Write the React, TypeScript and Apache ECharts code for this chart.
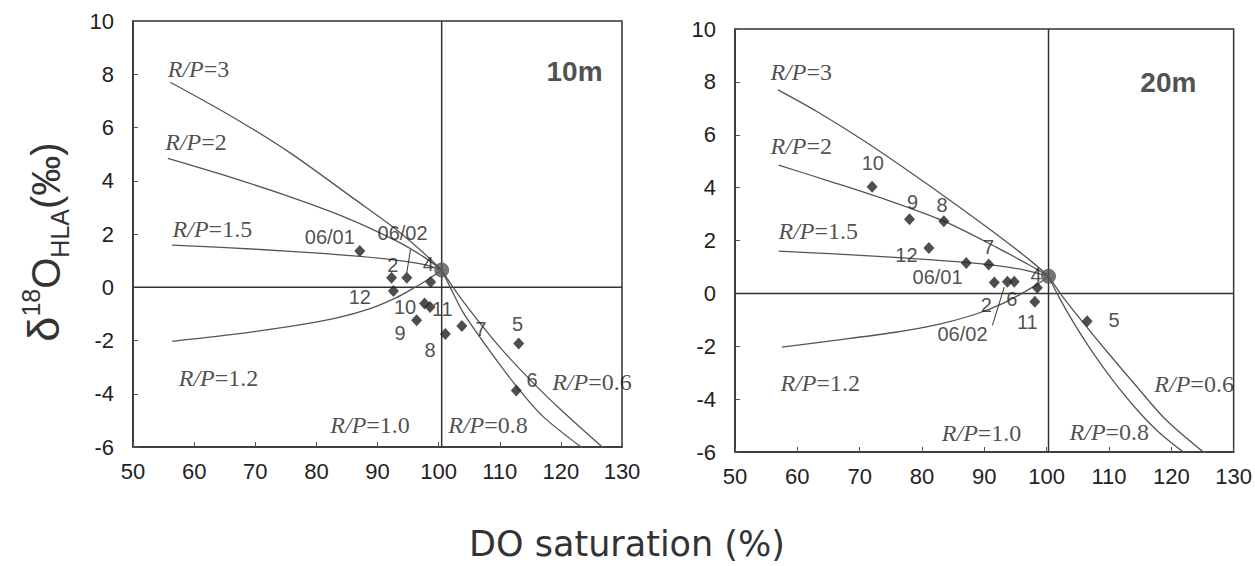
import React, { useEffect, useRef } from "react";
import * as echarts from "echarts";

// ---------- data ----------
const X_MIN = 50, X_MAX = 130, X_STEP = 10;
const Y_MIN = -6, Y_MAX = 10, Y_STEP = 2;

// equilibrium point & reference lines
const leftEq = [100.5, 0.65];
const rightEq = [100.3, 0.65];

// 10 m samples
const leftMonths = ["06/01", "2", "06/02", "4", "12", "10", "11", "9", "8", "7", "5", "6"];
const leftDO = [87.1, 92.3, 94.8, 98.7, 92.6, 97.7, 98.6, 96.4, 101.1, 103.8, 113.1, 112.7];
const leftD18O = [1.36, 0.36, 0.36, 0.2, -0.14, -0.61, -0.74, -1.24, -1.76, -1.46, -2.11, -3.88];
const leftLabelDO = [82.2, 92.5, 94.1, 98.3, 87.1, 94.5, 100.6, 93.7, 98.6, 106.9, 112.9, 115.3];
const leftLabelD18O = [1.88, 0.83, 2.02, 0.89, -0.36, -0.76, -0.8, -1.7, -2.36, -1.55, -1.39, -3.49];
const leftLeader = [[95.4, 1.42], [94.8, 0.55]];

// 20 m samples
const rightMonths = ["10", "9", "8", "12", "06/01", "7", "2", "06/02", "6", "4", "11", "5"];
const rightDO = [72.0, 78.0, 83.5, 81.1, 87.1, 90.7, 91.6, 93.7, 94.8, 98.5, 98.1, 106.5];
const rightD18O = [4.03, 2.8, 2.73, 1.72, 1.15, 1.09, 0.41, 0.44, 0.44, 0.21, -0.32, -1.05];
const rightLabelDO = [72.1, 78.5, 83.2, 77.5, 82.5, 90.7, 90.3, 86.5, 94.4, 98.3, 96.9, 110.8];
const rightLabelD18O = [4.92, 3.46, 3.34, 1.45, 0.62, 1.74, -0.45, -1.52, -0.23, 0.69, -1.08, -1.01];
const rightLeader = [[91.3, -1.21], [93.2, 0.24]];

// model curves (R/P ratios)
const rpNames = ["3", "2", "1.5", "1.2", "0.8", "0.6"];
const leftCurves = [
  [[56.1, 7.7], [66.7, 6.34], [76, 5.0], [86.3, 3.3], [93, 2.18], [97, 1.4], [100.5, 0.65]],
  [[55.7, 4.84], [65, 4.2], [75, 3.45], [85, 2.6], [93, 1.75], [97.5, 1.15], [100.5, 0.65]],
  [[56.4, 1.58], [66, 1.48], [75.7, 1.35], [85, 1.2], [92, 1.05], [97.5, 0.86], [100.5, 0.65]],
  [[56.4, -2.03], [66, -1.78], [75.7, -1.47], [83, -1.17], [88.8, -0.8], [93, -0.4], [96, -0.02], [98.5, 0.33], [100.5, 0.65]],
  [[100.5, 0.65], [102, -0.05], [104.1, -0.98], [108.4, -2.4], [112.8, -3.74], [117.1, -4.86], [123.6, -6.05]],
  [[100.5, 0.65], [102.5, -0.05], [105.1, -0.86], [110, -2.25], [115.5, -3.6], [120, -4.6], [127, -6.05]],
];
const rightCurves = [
  [[56.9, 7.7], [63, 6.9], [70.5, 5.8], [78, 4.6], [85.2, 3.4], [93, 2.05], [97.5, 1.22], [100.3, 0.65]],
  [[57, 4.85], [65.2, 4.24], [75, 3.48], [83.5, 2.73], [91.9, 1.75], [97, 1.1], [100.3, 0.65]],
  [[57, 1.6], [65.2, 1.5], [75, 1.37], [87.1, 1.17], [92, 1.05], [96.5, 0.88], [100.3, 0.65]],
  [[57.5, -2.03], [66, -1.78], [75.7, -1.47], [83, -1.15], [88.7, -0.78], [93, -0.38], [96, 0.0], [98.5, 0.34], [100.3, 0.65]],
  [[100.3, 0.65], [102, -0.15], [104.3, -1.1], [107, -2.1], [110.5, -3.25], [114.5, -4.4], [118, -5.25], [122.2, -6.05]],
  [[100.3, 0.65], [102.5, -0.1], [105.5, -1.0], [109.5, -2.15], [114, -3.4], [119, -4.75], [125.4, -6.05]],
];

// R/P label anchors (left-aligned text, data coords)
const rpLabelTexts = ["3", "2", "1.5", "1.2", "1.0", "0.8", "0.6"];
const leftRpDO = [55.6, 55.2, 56.4, 57.4, 82.2, 101.5, 118.5];
const leftRpD18O = [8.19, 5.45, 2.18, -3.41, -5.18, -5.18, -3.56];
const rightRpDO = [55.6, 55.6, 56.9, 57.2, 83.1, 103.6, 117.2];
const rightRpD18O = [8.37, 5.57, 2.35, -3.39, -5.29, -5.25, -3.43];

const panelTitles = ["10m", "20m"];
const titleDO = [126.9, 124.1];
const titleD18O = [8.1, 7.99];

// ---------- helpers ----------
const INK = "#222";
const CURVE = "#555";

function panelSeries(
  gi: number,
  eq: number[],
  months: string[],
  dox: number[],
  d18: number[],
  lx: number[],
  ly: number[],
  leader: number[][],
  curves: number[][][],
  rpx: number[],
  rpy: number[]
) {
  const ax = { xAxisIndex: gi, yAxisIndex: gi };
  const s: any[] = [];
  s.push({
    ...ax, type: "line", silent: true, symbol: "none", z: 1,
    data: [[X_MIN, 0], [X_MAX, 0]],
    lineStyle: { color: "#333", width: 1.5 },
  });
  s.push({
    ...ax, type: "line", silent: true, symbol: "none", z: 1,
    data: [[eq[0], Y_MIN], [eq[0], Y_MAX]],
    lineStyle: { color: "#333", width: 1.5 },
  });
  curves.forEach((c, i) => {
    s.push({
      ...ax, type: "line", name: "R/P=" + rpNames[i], silent: true, symbol: "none", z: 2,
      smooth: 0.3, data: c,
      lineStyle: { color: CURVE, width: 1.3 },
    });
  });
  s.push({
    ...ax, type: "line", silent: true, symbol: "none", z: 2,
    data: leader, lineStyle: { color: "#333", width: 1 },
  });
  s.push({
    ...ax, type: "scatter", silent: true, symbol: "diamond", symbolSize: [11, 12], z: 4,
    data: dox.map((x, i) => ({ name: months[i], value: [x, d18[i]] })),
    itemStyle: { color: INK },
  });
  s.push({
    ...ax, type: "scatter", silent: true, symbol: "circle", symbolSize: 15, z: 5,
    data: [eq], itemStyle: { color: "#555" },
  });
  s.push({
    ...ax, type: "scatter", silent: true, symbolSize: 1, z: 6,
    itemStyle: { color: "transparent" },
    data: lx.map((x, i) => ({ name: months[i], value: [x, ly[i]] })),
    label: {
      show: true, position: "inside", formatter: "{b}",
      fontSize: 20, color: INK, fontFamily: "Liberation Sans, Arial, sans-serif",
    },
  });
  s.push({
    ...ax, type: "scatter", silent: true, symbolSize: 1, z: 6,
    itemStyle: { color: "transparent" },
    data: rpx.map((x, i) => ({ name: rpLabelTexts[i], value: [x, rpy[i]] })),
    label: {
      show: true, position: "right", distance: 0,
      formatter: (p: any) => `{i|R/P}{n|=${p.name}}`,
      rich: {
        i: { fontSize: 24, fontStyle: "italic", fontFamily: "Liberation Serif, Times New Roman, serif", color: INK },
        n: { fontSize: 24, fontFamily: "Liberation Serif, Times New Roman, serif", color: INK },
      },
    },
  });
  s.push({
    ...ax, type: "scatter", silent: true, symbolSize: 1, z: 6,
    itemStyle: { color: "transparent" },
    data: [{ name: panelTitles[gi], value: [titleDO[gi], titleD18O[gi]] }],
    label: {
      show: true, position: "left", distance: 0, formatter: "{b}",
      fontSize: 28, fontWeight: "bold", color: INK, fontFamily: "Liberation Sans, Arial, sans-serif",
    },
  });
  return s;
}

function axisPair(gi: number) {
  const common = {
    gridIndex: gi, type: "value" as const,
    axisLine: { show: true, onZero: false, lineStyle: { color: "#333", width: 1.5 } },
    axisTick: { show: true, inside: true, length: 5, lineStyle: { color: "#555" } },
    splitLine: { show: false },
  };
  return {
    x: {
      ...common, min: X_MIN, max: X_MAX, interval: X_STEP,
      axisLabel: { fontSize: 22, color: INK, margin: 13, fontFamily: "Liberation Sans, Arial, sans-serif" },
    },
    y: {
      ...common, min: Y_MIN, max: Y_MAX, interval: Y_STEP,
      axisLabel: { fontSize: 22, color: INK, margin: 19, fontFamily: "Liberation Sans, Arial, sans-serif" },
    },
  };
}

export default function App() {
  const ref = useRef<HTMLDivElement>(null);
  useEffect(() => {
    if (!ref.current) return;
    const chart = echarts.init(ref.current, undefined, { renderer: "svg" });
    const a0 = axisPair(0);
    const a1 = axisPair(1);
    chart.setOption({
      animation: false,
      backgroundColor: "#fff",
      grid: [
        { left: 133, top: 21, width: 489, height: 426, show: true, borderColor: "#333", borderWidth: 1.5 },
        { left: 735, top: 29, width: 500, height: 423, show: true, borderColor: "#333", borderWidth: 1.5 },
      ],
      xAxis: [a0.x, a1.x],
      yAxis: [a0.y, a1.y],
      series: [
        ...panelSeries(0, leftEq, leftMonths, leftDO, leftD18O, leftLabelDO, leftLabelD18O, leftLeader, leftCurves, leftRpDO, leftRpD18O),
        ...panelSeries(1, rightEq, rightMonths, rightDO, rightD18O, rightLabelDO, rightLabelD18O, rightLeader, rightCurves, rightRpDO, rightRpD18O),
      ],
      graphic: [
        {
          type: "text", x: 627, y: 544,
          style: {
            text: "DO saturation (%)", fontSize: 35, fill: "#333",
            fontFamily: "DejaVu Sans, Open Sans, sans-serif",
            textAlign: "center", textVerticalAlign: "middle",
          },
        },
        {
          type: "text", x: 42, y: 242, rotation: Math.PI / 2,
          style: {
            text: "{d|δ}{s|18}{o|O}{b|HLA}{o|(‰)}",
            textAlign: "center", textVerticalAlign: "middle",
            rich: {
              d: { fontSize: 45, fill: "#333", fontFamily: "Liberation Sans, Arial, sans-serif", lineHeight: 48, verticalAlign: "bottom" },
              s: { fontSize: 25, fill: "#333", fontFamily: "Liberation Sans, Arial, sans-serif", lineHeight: 48, verticalAlign: "top" },
              o: { fontSize: 40, fill: "#333", fontFamily: "Liberation Sans, Arial, sans-serif", lineHeight: 48, verticalAlign: "bottom" },
              b: { fontSize: 25, fill: "#333", fontFamily: "Liberation Sans, Arial, sans-serif", lineHeight: 48, verticalAlign: "bottom", padding: [0, 0, -6, 0] },
            },
          },
        },
      ],
    });
    return () => chart.dispose();
  }, []);
  return (
    <div
      ref={ref}
      style={{ position: "fixed", left: 0, top: 0, width: 1255, height: 566 }}
    />
  );
}
